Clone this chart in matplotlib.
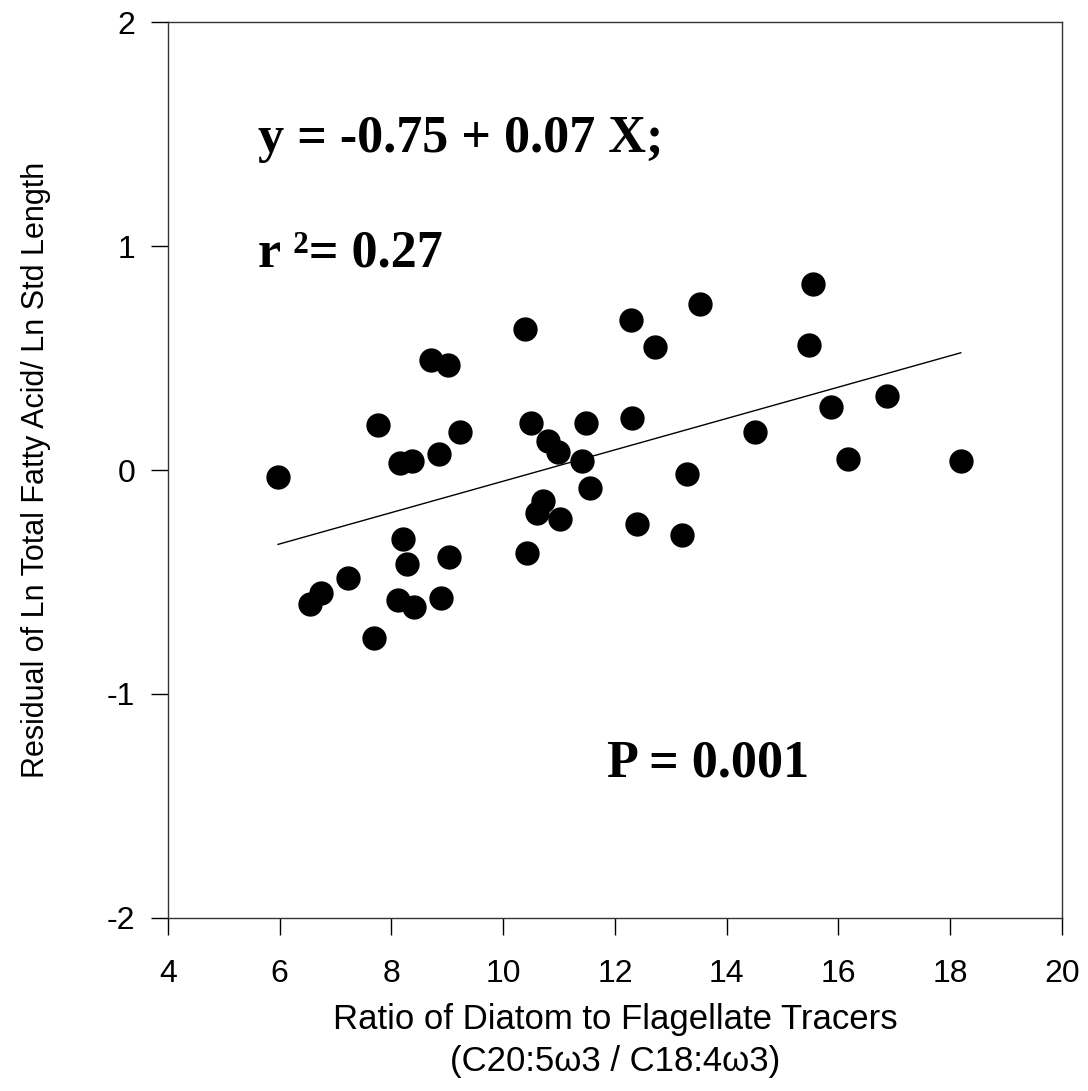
import matplotlib
matplotlib.use("Agg")
import matplotlib.pyplot as plt
import numpy as np

ratio = [5.97, 6.54, 6.74, 7.22, 7.69, 7.76, 8.12, 8.15, 8.21, 8.28, 8.37, 8.40,
         8.71, 8.85, 8.89, 9.01, 9.03, 9.23, 10.39, 10.42, 10.50, 10.61, 10.71,
         10.80, 10.98, 11.02, 11.41, 11.48, 11.55, 12.29, 12.30, 12.39, 12.72,
         13.20, 13.29, 13.52, 14.51, 15.47, 15.54, 15.87, 16.17, 16.87, 18.19]
residual = [-0.03, -0.60, -0.55, -0.48, -0.75, 0.20, -0.58, 0.03, -0.31, -0.42, 0.04, -0.61,
            0.49, 0.07, -0.57, 0.47, -0.39, 0.17, 0.63, -0.37, 0.21, -0.19, -0.14,
            0.13, 0.08, -0.22, 0.04, 0.21, -0.08, 0.67, 0.23, -0.24, 0.55,
            -0.29, -0.02, 0.74, 0.17, 0.56, 0.83, 0.28, 0.05, 0.33, 0.04]
intercept = -0.75
slope = 0.07
xticks = [4, 6, 8, 10, 12, 14, 16, 18, 20]
yticks = [-2, -1, 0, 1, 2]

plt.rcParams['font.family'] = ['Liberation Sans', 'DejaVu Sans']
plt.rcParams['axes.unicode_minus'] = False

fig = plt.figure(figsize=(10.88, 10.91), dpi=100)
ax = fig.add_axes([0.1544, 0.1586, 0.8216, 0.8212])

ax.plot(ratio, residual, 'o', color='black', markersize=16.5, zorder=3)
xl = np.array([min(ratio), max(ratio)])
ax.plot(xl, intercept + slope * xl, color='black', lw=1.0, zorder=2)

ax.set_xlim(4, 20)
ax.set_ylim(-2, 2)
ax.set_xticks(xticks)
ax.set_yticks(yticks)
ax.tick_params(direction='out', length=12.5, width=1.0, labelsize=23, top=False, right=False)
ax.tick_params(axis='x', pad=17)
ax.tick_params(axis='y', pad=11)
for s in ax.spines.values():
    s.set_linewidth(1.0)
    s.set_color('#333333')

ax.set_xlabel("Ratio of Diatom to Flagellate Tracers\n(C20:5\u03c93 / C18:4\u03c93)",
              fontsize=25, labelpad=10, linespacing=1.35)
ax.set_ylabel("Residual of Ln Total Fatty Acid/ Ln Std Length", fontsize=22, labelpad=40)

tfont = dict(family=['Liberation Serif', 'DejaVu Serif'], fontweight='bold', fontsize=37.5)
ax.text(5.61, 1.42, "y = -0.75 + 0.07 X;", va='baseline', ha='left', **tfont)
ax.text(5.61, 0.91, "r \u00b2= 0.27", va='baseline', ha='left', **tfont)
ax.text(11.86, -1.37, "P = 0.001", va='baseline', ha='left', **tfont)

fig.savefig("out.png", dpi=100)
